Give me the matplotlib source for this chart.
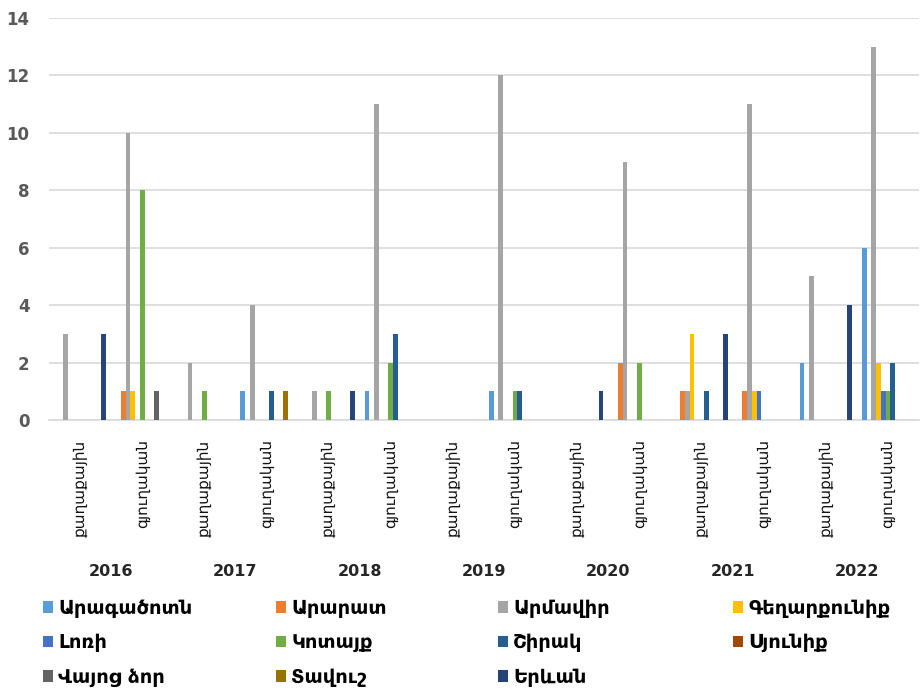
import numpy as np
import matplotlib
matplotlib.use("Agg")
import matplotlib.pyplot as plt
from matplotlib.transforms import blended_transform_factory

plt.rcParams['font.family'] = ['DejaVu Sans']

years = ["2016", "2017", "2018", "2019", "2020", "2021", "2022"]
settlement = ["քաղաքային", "գյուղական"]

regions = ["Արագածոտն", "Արարատ", "Արմավիր", "Գեղարքունիք", "Լոռի", "Կոտայք",
           "Շիրակ", "Սյունիք", "Վայոց ձոր", "Տավուշ", "Երևան"]

# values per region: for each year, urban then rural
aragatsotn  = [0, 0, 0, 1, 0, 1, 0, 1, 0, 0, 0, 0, 2, 6]
ararat      = [0, 1, 0, 0, 0, 0, 0, 0, 0, 2, 1, 1, 0, 0]
armavir     = [3, 10, 2, 4, 1, 11, 0, 12, 0, 9, 1, 11, 5, 13]
gegharkunik = [0, 1, 0, 0, 0, 0, 0, 0, 0, 0, 3, 1, 0, 2]
lori        = [0, 0, 0, 0, 0, 0, 0, 0, 0, 0, 0, 1, 0, 1]
kotayk      = [0, 8, 1, 0, 1, 2, 0, 1, 0, 2, 0, 0, 0, 1]
shirak      = [0, 0, 0, 1, 0, 3, 0, 1, 0, 0, 1, 0, 0, 2]
syunik      = [0, 0, 0, 0, 0, 0, 0, 0, 0, 0, 0, 0, 0, 0]
vayots_dzor = [0, 1, 0, 0, 0, 0, 0, 0, 0, 0, 0, 0, 0, 0]
tavush      = [0, 0, 0, 1, 0, 0, 0, 0, 0, 0, 0, 0, 0, 0]
yerevan     = [3, 0, 0, 0, 1, 0, 0, 0, 1, 0, 3, 0, 4, 0]

series = [aragatsotn, ararat, armavir, gegharkunik, lori, kotayk,
          shirak, syunik, vayots_dzor, tavush, yerevan]
colors = ["#5B9BD5", "#ED7D31", "#A5A5A5", "#FFC000", "#4472C4", "#70AD47",
          "#255E91", "#9E480E", "#636363", "#997300", "#264478"]

W, H = 923, 689
fig = plt.figure(figsize=(W / 100, H / 100), dpi=100)
ax = fig.add_axes([49 / W, 1 - 420 / H, 870 / W, 402 / H])

n_cat = len(years) * len(settlement)
x = np.arange(n_cat)
n_ser = len(series)
bw = 0.0764
handles = []
for i, (vals, col) in enumerate(zip(series, colors)):
    b = ax.bar(x + (i - (n_ser - 1) / 2) * bw, vals, width=bw, color=col,
               label=regions[i], zorder=3)
    handles.append(b)

ax.set_xlim(-0.5, n_cat - 0.5)
ax.set_ylim(0, 14)
ax.set_yticks(range(0, 15, 2))
ax.yaxis.grid(True, color="#D9D9D9", linewidth=1.2, zorder=0)
ax.set_axisbelow(True)
for s in ["top", "right", "left"]:
    ax.spines[s].set_visible(False)
ax.spines["bottom"].set_color("#D9D9D9")
ax.spines["bottom"].set_linewidth(1.2)

ax.tick_params(axis="y", length=0, pad=14, labelsize=12, labelcolor="#595959")
for t in ax.get_yticklabels():
    t.set_fontweight("bold")

ax.set_xticks(x)
ax.set_xticklabels([settlement[k % 2] for k in range(n_cat)], rotation=90,
                   fontsize=11, va="top", ha="center", color="#111111")
ax.tick_params(axis="x", length=0, pad=14)

trans = blended_transform_factory(ax.transData, ax.transAxes)
for j, yr in enumerate(years):
    ax.text(2 * j + 0.5, -152 / 402, yr, transform=trans, ha="center",
            va="center", fontsize=11.5, fontweight="bold", color="#262626")

# legend laid out in four columns, filled row by row
col_x = [35, 268, 490, 725]
for c in range(4):
    idx = list(range(c, n_ser, 4))
    fig.legend([handles[k] for k in idx], [regions[k] for k in idx],
               loc="upper left", bbox_to_anchor=(col_x[c] / W, 1 - 591 / H),
               frameon=False, ncol=1, handlelength=0.55, handleheight=0.55,
               handletextpad=0.25, labelspacing=0.8, borderaxespad=0,
               prop={"weight": "bold", "size": 14})

fig.savefig("out.png", dpi=100)
